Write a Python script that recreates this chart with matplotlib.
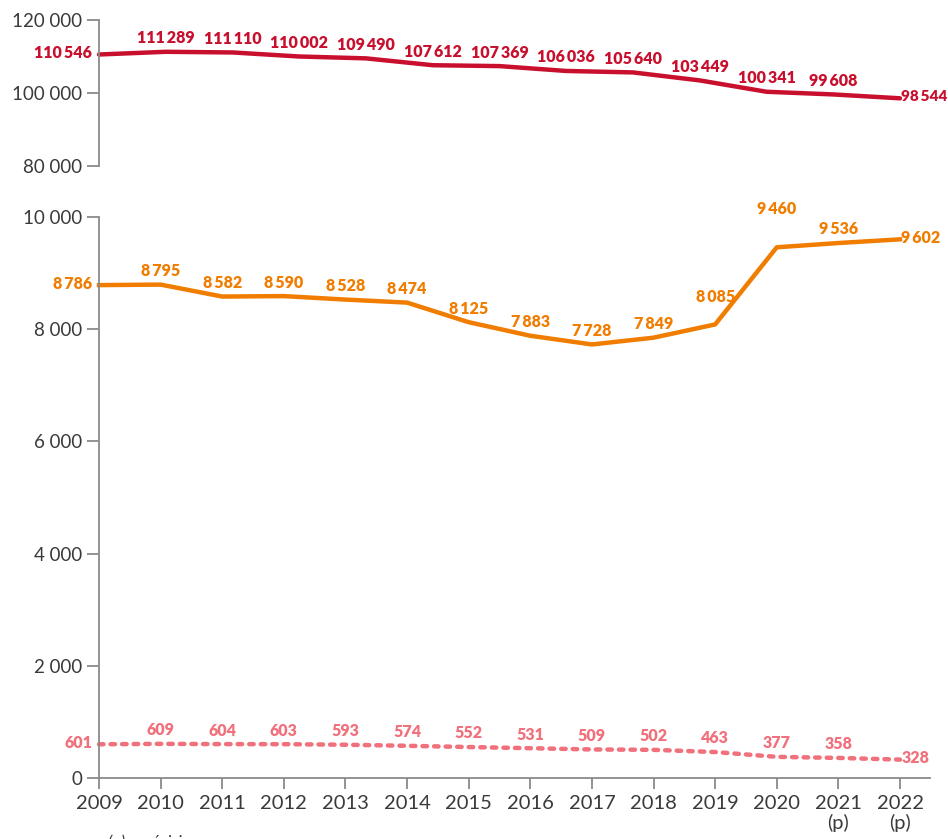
import numpy as np
import matplotlib
matplotlib.use("Agg")
import matplotlib.pyplot as plt

years = list(range(2009, 2023))
year_labels = [str(y) for y in years[:-2]] + ["2021\n(p)", "2022\n(p)"]

# red series has 13 points spread over the whole period in the source
total = [110546, 111289, 111110, 110002, 109490, 107612, 107369,
         106036, 105640, 103449, 100341, 99608, 98544]
orange = [8786, 8795, 8582, 8590, 8528, 8474, 8125, 7883, 7728, 7849,
          8085, 9460, 9536, 9602]
pink = [601, 609, 604, 603, 593, 574, 552, 531, 509, 502, 463, 377, 358, 328]

RED = "#c8102e"
ORANGE = "#f07d00"
PINK = "#f0707c"
GREY = "#8a8a8a"
TXT = "#3a3a3a"

lab_font = ["Lato", "DejaVu Sans"]
tick_font = ["Lato", "DejaVu Sans"]
LAB_SIZE = 11.5

def fmt(v, sep="\u2009"):
    return f"{v:,}".replace(",", sep)

fig = plt.figure(figsize=(9.48, 8.39), dpi=100)
x0, x1 = 99 / 948, 930 / 948
ax_top = fig.add_axes([x0, 1 - 166 / 839, x1 - x0, (166 - 20) / 839])
ax = fig.add_axes([x0, 1 - 778 / 839, x1 - x0, (778 - 217) / 839])

xmax = 2022 + 30 / (801 / 13)
for a in (ax_top, ax):
    a.set_xlim(2009, xmax)
    for s in ("top", "right"):
        a.spines[s].set_visible(False)
    a.spines["left"].set_color(GREY)
    a.spines["left"].set_linewidth(1.3)
    a.tick_params(axis="y", length=9, width=1.3, color=GREY, labelcolor=TXT,
                  labelsize=13.5, pad=3)
    a.patch.set_alpha(0)

ytick_fmt = lambda v, p: fmt(int(v), " ")

def label(a, xv, v, where, col, dy=4, size=LAB_SIZE):
    if where == "left":
        kw = dict(xytext=(-5, 1), ha="right", va="center")
    elif where == "right":
        kw = dict(xytext=(1, 1), ha="left", va="center")
    else:
        kw = dict(xytext=(0, dy), ha="center", va="bottom")
    a.annotate(fmt(v), (xv, v), textcoords="offset points", color=col,
               fontsize=size, fontweight="heavy", family=lab_font, **kw)

# top panel
ax_top.set_ylim(80000, 120000)
ax_top.set_yticks([80000, 100000, 120000])
ax_top.yaxis.set_major_formatter(ytick_fmt)
ax_top.spines["bottom"].set_visible(False)
ax_top.set_xticks([])
x_red = np.linspace(2009, 2022, len(total))
ax_top.plot(x_red, total, color=RED, lw=3.2, solid_capstyle="round", clip_on=False)
for i, (xv, v) in enumerate(zip(x_red, total)):
    last = i == len(total) - 1
    where = "left" if i == 0 else ("right" if last else "above")
    label(ax_top, xv, v, where, RED, size=11 if last else LAB_SIZE)

# bottom panel
ax.set_ylim(0, 10000)
ax.set_yticks([0, 2000, 4000, 6000, 8000, 10000])
ax.yaxis.set_major_formatter(ytick_fmt)
ax.spines["bottom"].set_color(GREY)
ax.spines["bottom"].set_linewidth(1.3)
ax.set_xticks(years)
ax.set_xticklabels(year_labels, linespacing=1.15)
ax.tick_params(axis="x", length=8, width=1.3, color=GREY, labelcolor=TXT,
               labelsize=14.5, pad=4)
for t in ax.get_xticklabels() + ax.get_yticklabels():
    t.set_family(tick_font)
for t in ax_top.get_yticklabels():
    t.set_family(tick_font)

ax.plot(years, orange, color=ORANGE, lw=3.2, clip_on=False)
ax.plot(years, pink, color=PINK, lw=3.2, ls=(0, (1, 1.6)),
        dash_capstyle="round", clip_on=False)

# extra lift for labels sitting on the steep part of the orange line
lift = {2019: 14, 2020: 22}
for series, col in ((orange, ORANGE), (pink, PINK)):
    n = len(series)
    for i, (xv, v) in enumerate(zip(years, series)):
        where = "left" if i == 0 else ("right" if i == n - 1 else "above")
        dy = lift.get(xv, 4) if series is orange else 4
        label(ax, xv, v, where, col, dy=dy)

fig.text(108 / 948, -0.004, "(p) : prévision", ha="left", va="center",
         fontsize=12, color=TXT, style="italic", family=tick_font)

fig.savefig("out.png", dpi=100)
